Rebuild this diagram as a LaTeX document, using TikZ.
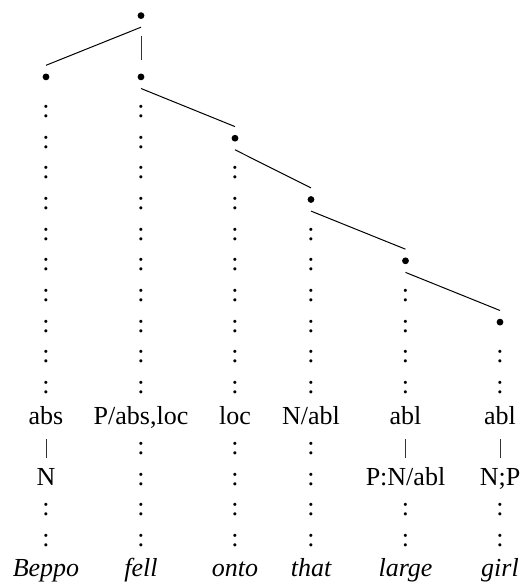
\documentclass[tikz,border=0pt]{standalone}
\usepackage{fontspec}
\setmainfont{Liberation Serif}
\begin{document}
\begin{tikzpicture}[x=1pt, y=-1pt,
  txt/.style={inner sep=0pt, anchor=base, font=\fontsize{26}{30}\selectfont},
  lab/.style={txt, text height=18pt, text depth=5pt},
  word/.style={txt, font=\fontsize{26}{30}\selectfont\itshape},
  colon/.style={txt},
  bul/.style={circle, fill=black, inner sep=0pt, minimum size=6.8pt},
  edge/.style={line width=1pt},
  bar/.style={line width=0.9pt, black!80}]
\useasboundingbox (0,0) rectangle (523,586);

% tree nodes
\node[bul] (root)  at (141,15.6) {};
\node[bul] (b1)    at (46,76.9) {};
\node[bul] (b2)    at (141,76.9) {};
\node[bul] (b3)    at (235,138.2) {};
\node[bul] (b4)    at (311,199.5) {};
\node[bul] (b5)    at (405.5,260.8) {};
\node[bul] (b6)    at (500,322.1) {};

% branches
\draw[bar, shorten <=17pt, shorten >=13.6pt] (root.south) -- (b2.north);
\draw[edge] ([yshift=-8pt]root.south) -- ([yshift=8pt]b1.north);
\draw[edge] ([yshift=-8pt]b2.south) -- ([yshift=8pt]b3.north);
\draw[edge] ([yshift=-8pt]b3.south) -- ([yshift=8pt]b4.north);
\draw[edge] ([yshift=-8pt]b4.south) -- ([yshift=8pt]b5.north);
\draw[edge] ([yshift=-8pt]b5.south) -- ([yshift=8pt]b6.north);

% projection lines of colons down to the labels
\foreach \c/\x/\s in {1/46/0, 2/141/0, 3/235/2, 4/311/4, 5/405.5/6, 6/500/8} {
  \foreach \k in {\s,...,9} {
    \node[colon] (c\c-\k) at (\x,{117.5+30.65*\k}) {:};
  }
}

% category labels
\node[lab] (l1) at (46,424)    {abs};
\node[lab] (l2) at (141,424)   {P/abs,loc};
\node[lab] (l3) at (235,424)   {loc};
\node[lab] (l4) at (311,424)   {N/abl};
\node[lab] (l5) at (405.5,424) {abl};
\node[lab] (l6) at (500,424)   {abl};

% second tier
\node[lab] (n1) at (46,485.3)    {N};
\node[lab] (n5) at (405.5,485.3) {P:N/abl};
\node[lab] (n6) at (500,485.3)   {N;P};
\draw[bar, shorten <=10pt, shorten >=9pt] (l1.south) -- (n1.north);
\draw[bar, shorten <=10pt, shorten >=9pt] (l5.south) -- (n5.north);
\draw[bar, shorten <=10pt, shorten >=9pt] (l6.south) -- (n6.north);

\foreach \c/\x in {2/141, 3/235, 4/311} {
  \foreach \k in {11,12} {
    \node[colon] (d\c-\k) at (\x,{117.5+30.65*\k}) {:};
  }
}
\foreach \c/\x in {1/46, 2/141, 3/235, 4/311, 5/405.5, 6/500} {
  \foreach \k in {13,14} {
    \node[colon] (e\c-\k) at (\x,{117.5+30.65*\k}) {:};
  }
}

% words
\node[word] (w1) at (46,576)    {Beppo};
\node[word] (w2) at (141,576)   {fell};
\node[word] (w3) at (235,576)   {onto};
\node[word] (w4) at (311,576)   {that};
\node[word] (w5) at (405.5,576) {large};
\node[word] (w6) at (500,576)   {girl};
\end{tikzpicture}
\end{document}
